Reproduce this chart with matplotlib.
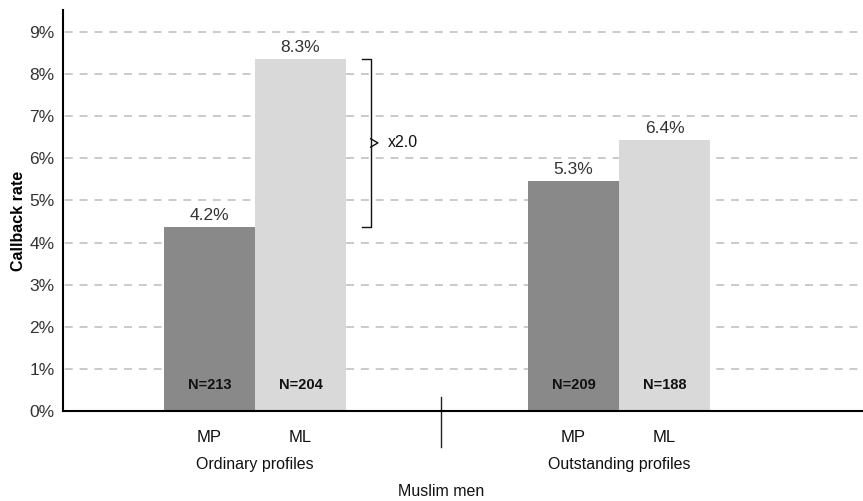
import matplotlib
matplotlib.use("Agg")
import matplotlib.pyplot as plt

# values
groups = ["Ordinary profiles", "Outstanding profiles"]
bar_names = ["MP", "ML", "MP", "ML"]
bar_heights = [4.37, 8.36, 5.46, 6.43]
bar_labels = ["4.2%", "8.3%", "5.3%", "6.4%"]
n_counts = [213, 204, 209, 188]
ratio_label = "x2.0"
y_ticks = [0, 1, 2, 3, 4, 5, 6, 7, 8, 9]

positions = [0, 1, 4, 5]
colors = ["#898989", "#d9d9d9", "#898989", "#d9d9d9"]
cond = ["Liberation Sans Narrow", "Liberation Sans", "DejaVu Sans"]

fig = plt.figure(figsize=(8.63, 5.01), dpi=100)
ax = fig.add_axes([0.073, 0.1796, 0.927, 0.8004])

ax.bar(positions, bar_heights, width=1.0, color=colors, zorder=2)

for y in y_ticks[1:]:
    ax.axhline(y, color="#c6c6c6", linewidth=1.3, linestyle=(-1, (4.4, 3.8)),
               zorder=1)

for x, name, h, lab, n in zip(positions, bar_names, bar_heights, bar_labels,
                              n_counts):
    ax.text(x, h + 0.1, lab, ha="center", va="bottom", fontsize=12.5,
            color="#333333", family="Liberation Sans")
    ax.text(x, 0.62, f"N={n}", ha="center", va="center", fontsize=10.5,
            fontweight="bold", color="#111111", family=cond, zorder=3)
    ax.text(x, -0.64, name, ha="center", va="center",
            fontsize=12, color="#111111", family=cond, clip_on=False)

ax.text(0.5, -1.28, groups[0], ha="center", va="center", fontsize=11.5,
        color="#111111", family=cond)
ax.text(4.5, -1.28, groups[1], ha="center", va="center", fontsize=11.5,
        color="#111111", family=cond)
ax.text(2.54, -1.92, "Muslim men", ha="center", va="center", fontsize=11.5,
        color="#111111", family=cond)

# divider between the two groups
ax.plot([2.54, 2.54], [0.33, -0.86], color="#222222", linewidth=1,
        clip_on=False)

# bracket showing the ratio between the two ordinary-profile bars
lo, hi = bar_heights[0], bar_heights[1]
mid = (lo + hi) / 2
ax.plot([1.68, 1.77, 1.77, 1.68], [hi, hi, lo, lo], color="#111111",
        linewidth=1)
ax.plot([1.77, 1.85, 1.77], [mid + 0.1, mid, mid - 0.1], color="#111111",
        linewidth=1)
ax.text(1.96, mid, ratio_label, ha="left", va="center", fontsize=11.5,
        color="#111111", family="Liberation Sans")

ax.set_xlim(-1.61, 7.18)
ax.set_ylim(0, 9.52)
ax.set_xticks([])
ax.set_yticks(y_ticks)
ax.set_yticklabels([f"{t}%" for t in y_ticks], fontsize=12.5, color="#333333",
                   family="Liberation Sans")
ax.tick_params(axis="y", length=0, pad=6)

for side in ["top", "right"]:
    ax.spines[side].set_visible(False)
ax.spines["left"].set_linewidth(1.5)
ax.spines["bottom"].set_linewidth(1.5)

fig.text(0.021, 0.56, "Callback rate", rotation=90, ha="center", va="center",
         fontsize=11.5, fontweight="bold", family="Liberation Sans")

fig.savefig("out.png", dpi=100)
